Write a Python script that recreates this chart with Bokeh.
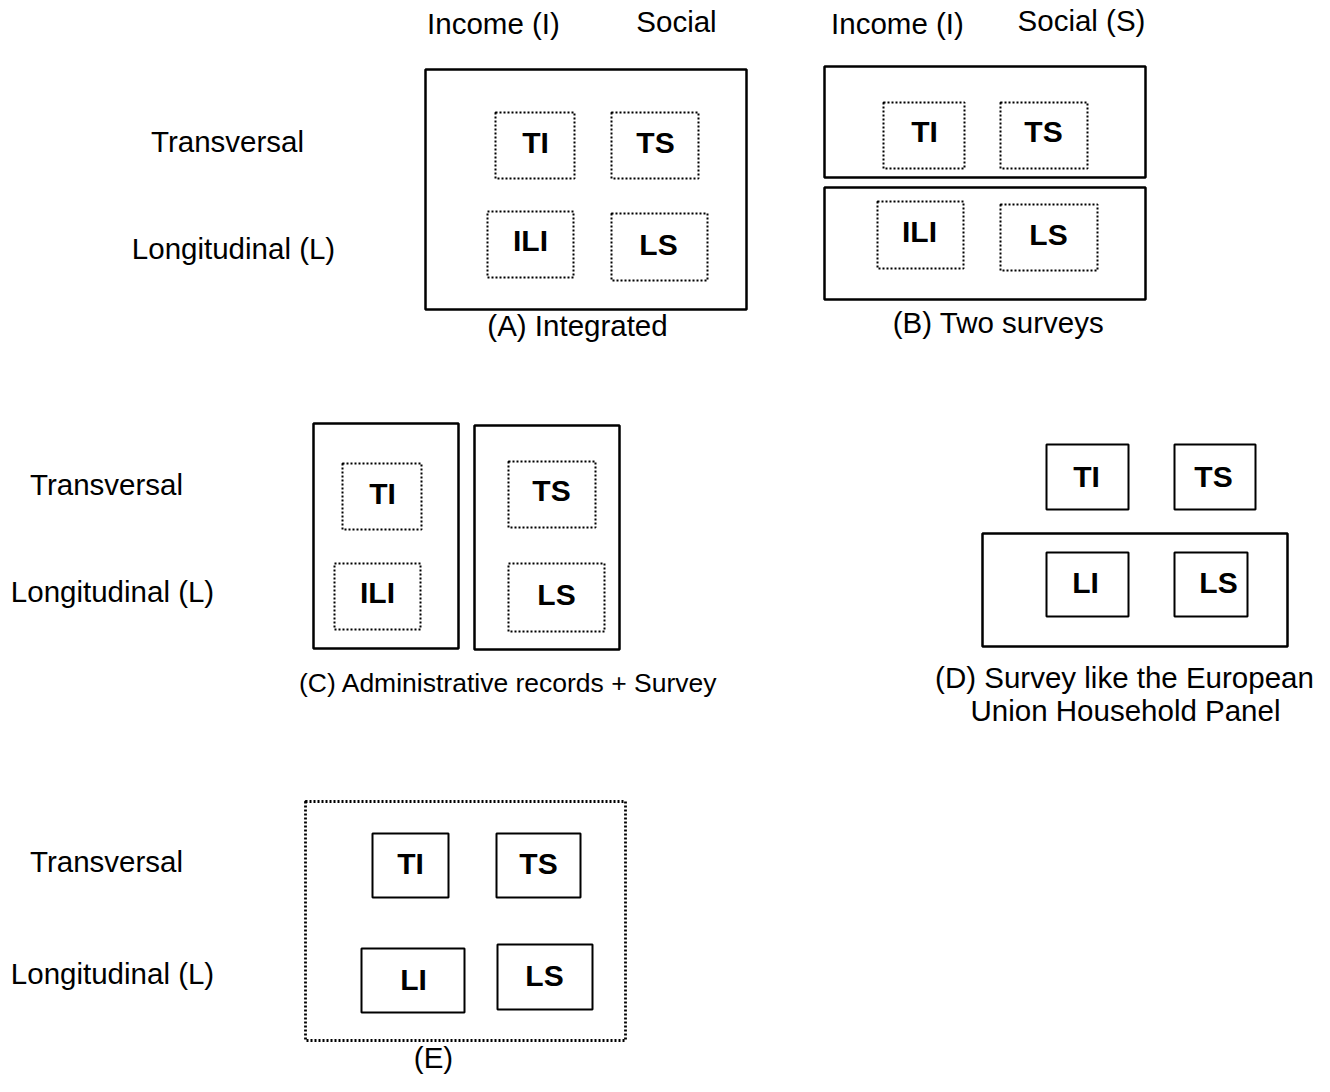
from bokeh.plotting import figure
from bokeh.models import Range1d, ColumnDataSource
from bokeh.core.properties import value
from bokeh.embed import file_html
from bokeh.resources import INLINE

# ---- Diagram content (positions in reference-image pixel units) ----
# Solid-outline boxes: left, right, top, bottom
solid_left   = [425, 824, 824, 313, 474, 982, 1046, 1174, 1046, 1174, 372, 496, 361, 497]
solid_right  = [746, 1145, 1145, 458, 619, 1287, 1128, 1255, 1128, 1247, 448, 580, 464, 592]
solid_top    = [69, 66, 187, 423, 425, 533, 444, 444, 552, 552, 833, 833, 948, 944]
solid_bottom = [309, 177, 299, 648, 649, 646, 509, 509, 616, 616, 897, 897, 1012, 1009]
solid_width  = [2.5, 2.5, 2.5, 2.5, 2.5, 2.5, 2, 2, 2, 2, 2, 2, 2, 2]

# Dotted-outline boxes: left, right, top, bottom
dot_left   = [495, 611, 487, 611, 883, 1000, 877, 1000, 342, 334, 508, 508, 305]
dot_right  = [574, 698, 573, 707, 964, 1087, 963, 1097, 421, 420, 595, 604, 625]
dot_top    = [112, 112, 211, 213, 102, 102, 201, 204, 463, 563, 461, 563, 801]
dot_bottom = [178, 178, 277, 280, 168, 168, 268, 270, 529, 629, 527, 631, 1040]
dot_width  = [2, 2, 2, 2, 2, 2, 2, 2, 2, 2, 2, 2, 2.8]

# Bold cell labels
cell_text = ["TI", "TS", "ILI", "LS",
             "TI", "TS", "ILI", "LS",
             "TI", "ILI", "TS", "LS",
             "TI", "TS", "LI", "LS",
             "TI", "TS", "LI", "LS"]
cell_x = [535, 655, 530, 658,
          924, 1043, 919, 1048,
          382, 377, 551, 556,
          1086, 1213, 1085, 1218,
          410, 538, 413, 544]
cell_y = [142, 142, 240, 244,
          131, 131, 231, 234,
          493, 592, 490, 594,
          476, 476, 582, 582,
          863, 863, 979, 975]

# Regular-weight captions and headers
cap_text = ["Income (I)", "Social", "Income (I)", "Social (S)",
            "Transversal", "Longitudinal (L)",
            "Transversal", "Longitudinal (L)",
            "Transversal", "Longitudinal (L)",
            "(A) Integrated", "(B) Two surveys",
            "(C) Administrative records + Survey",
            "(D) Survey like the European", "Union Household Panel",
            "(E)"]
cap_x = [493, 676, 897, 1081,
         227, 233,
         106, 112,
         106, 112,
         577, 998,
         508,
         1124, 1125,
         433]
cap_y = [23, 21, 23, 20,
         141, 248,
         484, 591,
         861, 973,
         325, 322,
         682,
         677, 710,
         1057]
cap_size = ["29.5px"] * 12 + ["26.5px"] + ["29.5px"] * 3

W, H = 1314, 1076
p = figure(width=W, height=H, output_backend="svg", toolbar_location=None,
           x_range=Range1d(0, W), y_range=Range1d(H, 0),
           min_border=0)
p.axis.visible = False
p.grid.visible = False
p.outline_line_color = None
p.background_fill_color = "white"
p.border_fill_color = "white"

solid_src = ColumnDataSource(dict(l=solid_left, r=solid_right, t=solid_top,
                                  b=solid_bottom, w=solid_width))
p.quad(left="l", right="r", top="t", bottom="b", source=solid_src,
       fill_color=None, line_color="black", line_width="w")

dot_src = ColumnDataSource(dict(l=dot_left, r=dot_right, t=dot_top,
                                b=dot_bottom, w=dot_width))
p.quad(left="l", right="r", top="t", bottom="b", source=dot_src,
       fill_color=None, line_color="black", line_width="w", line_dash="2 2")

cell_src = ColumnDataSource(dict(x=cell_x, y=cell_y, t=cell_text))
p.text(x="x", y="y", text="t", source=cell_src,
       text_font=value("Liberation Sans"), text_font_style="bold",
       text_font_size="30px", text_align="center", text_baseline="middle",
       text_color="black")

cap_src = ColumnDataSource(dict(x=cap_x, y=cap_y, t=cap_text, s=cap_size))
p.text(x="x", y="y", text="t", source=cap_src,
       text_font=value("Liberation Sans"),
       text_font_size="s", text_align="center", text_baseline="middle",
       text_color="black")

open("out.html", "w").write(file_html(p, INLINE))
